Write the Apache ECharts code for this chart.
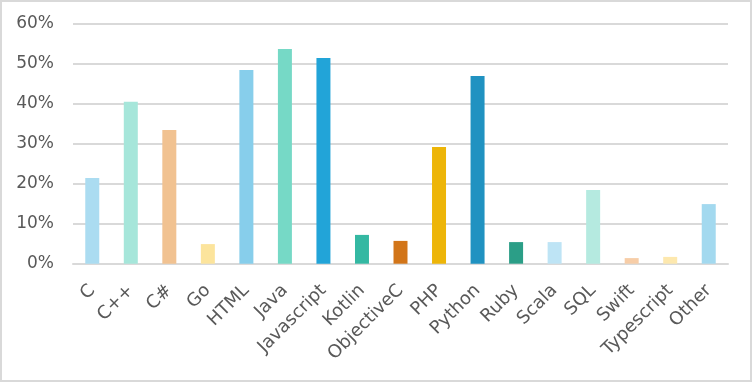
<!DOCTYPE html>
<html>
<head>
<meta charset="utf-8">
<script src="https://cdn.jsdelivr.net/npm/echarts@6/dist/echarts.min.js"></script>
<style>
html,body{margin:0;padding:0;background:#fff;}
#frame{position:absolute;left:0;top:0;width:752px;height:382px;box-sizing:border-box;border:2px solid #d9d9d9;}
#chart{position:absolute;left:0;top:0;width:752px;height:382px;}
</style>
</head>
<body>
<div id="frame"></div>
<div id="chart"></div>
<script>
const categories = ['C','C++','C#','Go','HTML','Java','Javascript','Kotlin','ObjectiveC','PHP','Python','Ruby','Scala','SQL','Swift','Typescript','Other'];
const values = [21.4, 40.5, 33.4, 4.9, 48.4, 53.7, 51.4, 7.2, 5.7, 29.2, 46.9, 5.4, 5.4, 18.4, 1.4, 1.7, 14.9];
const colors = ['#abdcf1','#a6e6da','#f1c291','#fce49c','#87ceeb','#76d9c6','#22a4d8','#34b8a2','#d27519','#edb508','#2092c1','#2b9e87','#bee4f5','#b5eae0','#f7cda7','#fde8ae','#a3d9ef'];
const yTicks = [0, 10, 20, 30, 40, 50, 60];

const chart = echarts.init(document.getElementById('chart'), null, {renderer:'canvas'});
const font = 'DejaVu Sans';
chart.setOption({
  animation: false,
  grid: {left: 73, right: 24, top: 23.7, bottom: 118.3, containLabel: false},
  xAxis: {
    type: 'category',
    data: categories,
    axisLine: {lineStyle: {color: '#d9d9d9', width: 2}},
    axisTick: {show: false},
    axisLabel: {rotate: 45, color: '#595959', fontFamily: font, fontSize: 18, margin: 24, interval: 0}
  },
  yAxis: {
    type: 'value',
    min: yTicks[0],
    max: yTicks[yTicks.length - 1],
    interval: 10,
    axisLine: {show: false},
    axisTick: {show: false},
    splitLine: {lineStyle: {color: '#d9d9d9', width: 2}},
    axisLabel: {formatter: v => v + '%', color: '#595959', fontFamily: font, fontSize: 17, margin: 19}
  },
  series: [{
    type: 'bar',
    barWidth: 14,
    data: values.map((v, i) => ({value: v, itemStyle: {color: colors[i]}}))
  }]
});
</script>
</body>
</html>
